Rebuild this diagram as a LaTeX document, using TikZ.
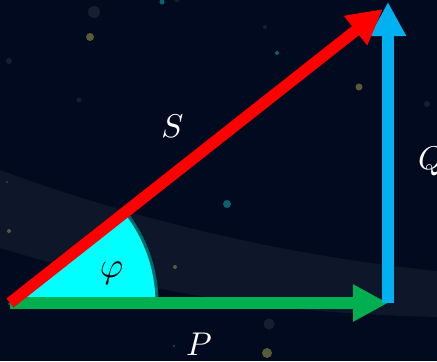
\documentclass[tikz,border=0pt]{standalone}
\usetikzlibrary{arrows.meta}
\definecolor{bg}{HTML}{010A1F}
\definecolor{band}{HTML}{0E1629}
\definecolor{pred}{HTML}{FF0000}
\definecolor{pgreen}{HTML}{00B050}
\definecolor{pblue}{HTML}{00B0F0}
\definecolor{wedgefill}{HTML}{00FFFF}
\definecolor{wedgeline}{HTML}{006B6B}
\definecolor{stardim}{HTML}{161E31}
\definecolor{starolive}{HTML}{585B33}
\definecolor{starteal}{HTML}{0A6171}
\tikzset{
  vec/.style={line width=11.5bp},
  vechead/.style={-{Triangle[length=35bp,width=35bp]}},
  lbl/.style={inner sep=0pt, text=white, scale=3.3},
  star/.style={fill=#1, draw=none}
}
\begin{document}
\begin{tikzpicture}[x=1bp,y=-1bp]
\fill[bg] (0,0) rectangle (437,361);
\useasboundingbox (0,0) rectangle (437,361);
% band
\fill[band] (0,170) .. controls (130,218) and (280,255) .. (437,271)
  -- (437,317) .. controls (260,313) and (140,290) .. (0,248) -- cycle;
% stars
\foreach \x/\y/\r/\c in {94/12/6/stardim, 90/37/4/starolive, 162/2/2.5/starteal,
  177/-1/3/stardim, 9/61/3/stardim, 79/100/2.5/stardim, 265/27/2/stardim,
  277/53/2/starteal, 359/87/3.5/starolive, 427/104/3/stardim, 7/182/1/starteal,
  227/204/4/starteal, 9/231/2/starolive, 152/230/1/stardim, 175/267/2/starolive,
  269/324/5.5/stardim, 267/353/5/starolive, 174/346/1/starteal, 9/304/1/starteal}
  {\fill[star=\c] (\x,\y) circle[radius=\r bp];}
% points
\coordinate (O) at (10,303);
\coordinate (A) at (388,303);
\coordinate (C) at (388,2);
\coordinate (B) at (383,9);
% wedge
\draw[fill=wedgefill, draw=wedgeline, line width=3bp, line join=round]
  (O) -- ++(147,0) arc[start angle=0, end angle=-38.25, radius=147] -- cycle;
\node[inner sep=0pt, scale=3.6] (phi) at (111.5,273.5) {$\varphi$};
% vectors
\draw[vec, vechead, pgreen] (O) -- (A);
\draw[vec, -{Triangle[length=34bp,width=34bp]}, pblue] (A) -- (C);
\draw[vec, vechead, pred] (O) -- (B);
% labels
\node[lbl] (S) at (172.5,126.5) {$S$};
\node[lbl] (Q) at (431,161) {$Q$};
\node[lbl] (P) at (199,344) {$P$};
\end{tikzpicture}
\end{document}
